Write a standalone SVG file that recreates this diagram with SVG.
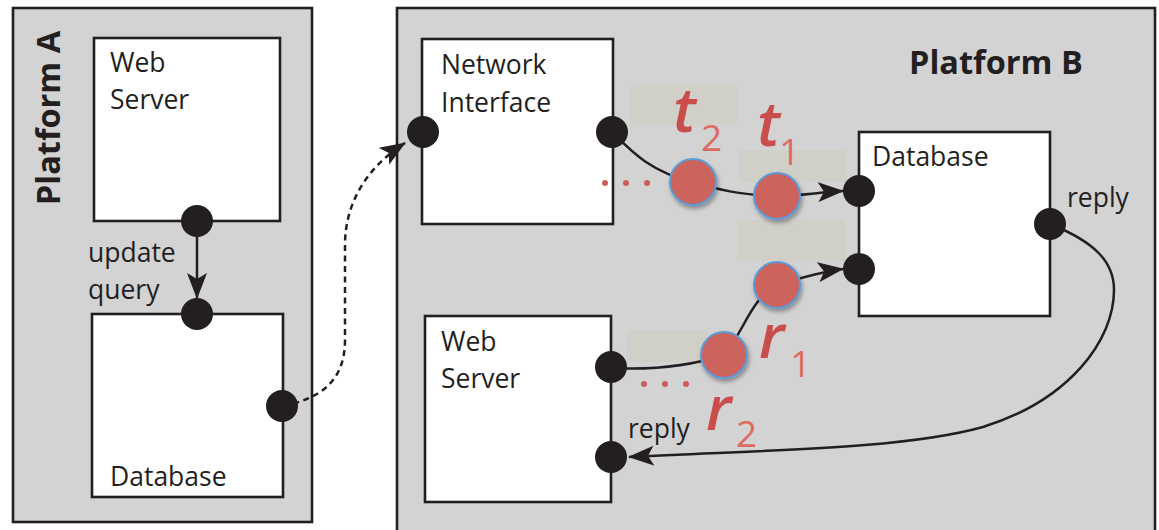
<svg xmlns="http://www.w3.org/2000/svg" width="1159" height="530" viewBox="0 0 1159 530">
<style>
.plat{fill:#d3d3d3;stroke:#231f20;stroke-width:2.6}
.box{fill:#ffffff;stroke:#231f20;stroke-width:2.6}
.port{fill:#231f20}
.lbl{font-family:"Open Sans","Noto Sans",sans-serif;font-size:26.5px;fill:#231f20}
.plbl{font-family:"Open Sans","Noto Sans",sans-serif;font-size:32.5px;font-weight:bold;fill:#231f20}
.conn{fill:none;stroke:#231f20;stroke-width:2.5}
.dash{stroke-dasharray:6 4.5}
.hl{fill:#d0d0c8}
.tok{fill:#cd635d;stroke:#5b9bd5;stroke-width:2;filter:url(#sh)}
.dot{fill:#cd5b57}
.sym{font-family:"Open Sans","Noto Sans",sans-serif;font-style:italic;font-weight:600;font-size:62px;fill:#c94e4b}
.sub{font-family:"Open Sans","Noto Sans",sans-serif;font-size:37px;fill:#de6b63}
</style>
<defs>
<marker id="arr" markerUnits="userSpaceOnUse" markerWidth="26" markerHeight="20" refX="25" refY="10" orient="auto" viewBox="0 0 26 20">
<path d="M0,0 L26,10 L0,20 L6,10 z" fill="#231f20"/>
</marker>
<filter id="sh" x="-40%" y="-40%" width="190%" height="190%">
<feDropShadow dx="1.5" dy="3" stdDeviation="2" flood-color="#000" flood-opacity="0.35"/>
</filter>
</defs>

<g id="platformA">
<rect class="plat" x="13" y="8" width="299" height="514"/>
<text class="plbl" transform="translate(60,118) rotate(-90)" text-anchor="middle">Platform A</text>
</g>
<g id="platformB">
<rect class="plat" x="397" y="8" width="758" height="540"/>
<text class="plbl" x="909" y="74">Platform B</text>
</g>

<g id="highlights">
<rect class="hl" x="630" y="85" width="107" height="40"/>
<rect class="hl" x="739" y="150" width="108" height="32"/>
<rect class="hl" x="737" y="220" width="108" height="41"/>
<rect class="hl" x="627" y="330" width="80" height="32"/>
</g>

<g id="connectors">
<path class="conn" d="M197,221 L197,298" marker-end="url(#arr)"/>
<path class="conn dash" d="M283,406 C322,398 345,380 345,340 L345,245 C345,200 370,165 405,143" marker-end="url(#arr)"/>
<path class="conn" d="M612,132 C630,150 650,172 693,182 C720,190 740,195 777,196 C800,196 820,192 843,191" marker-end="url(#arr)"/>
<path class="conn" d="M611,368 C650,370 690,366 724,355 C745,330 750,300 777,285 C800,278 820,272 843,269" marker-end="url(#arr)"/>
<path class="conn" d="M1050,224 C1095,242 1114,262 1114,290 C1114,340 1070,400 983,427 C900,450 760,450 629,457" marker-end="url(#arr)"/>
</g>

<g id="webServerA">
<rect class="box" x="94" y="38" width="186" height="183"/>
<text class="lbl" x="110" y="72">Web</text>
<text class="lbl" x="110" y="109">Server</text>
<circle class="port" cx="197" cy="221" r="16"/>
</g>
<text class="lbl" x="88" y="262">update</text>
<text class="lbl" x="88" y="299">query</text>
<g id="databaseA">
<rect class="box" x="92" y="314" width="191" height="183"/>
<text class="lbl" x="110" y="486">Database</text>
<circle class="port" cx="197" cy="314" r="16"/>
<circle class="port" cx="282" cy="406" r="16"/>
</g>

<g id="networkInterface">
<rect class="box" x="422" y="39" width="191" height="185"/>
<text class="lbl" x="441" y="74">Network</text>
<text class="lbl" x="441" y="112">Interface</text>
<circle class="port" cx="423" cy="132" r="16"/>
<circle class="port" cx="612" cy="132" r="16"/>
</g>

<g id="databaseB">
<rect class="box" x="859" y="132" width="191" height="184"/>
<text class="lbl" x="872" y="166">Database</text>
<circle class="port" cx="859" cy="191" r="16"/>
<circle class="port" cx="859" cy="269" r="16"/>
<circle class="port" cx="1050" cy="224" r="16"/>
<text class="lbl" x="1067" y="207">reply</text>
</g>

<g id="webServerB">
<rect class="box" x="425" y="316" width="186" height="186"/>
<text class="lbl" x="441" y="351">Web</text>
<text class="lbl" x="441" y="388">Server</text>
<circle class="port" cx="611" cy="367" r="16"/>
<circle class="port" cx="611" cy="457" r="16"/>
<text class="lbl" x="628" y="438">reply</text>
</g>

<g id="tokenT2">
<circle class="tok" cx="693" cy="182" r="23"/>
<text class="sym" x="673" y="132">t</text>
<text class="sub" x="701" y="151">2</text>
</g>
<g id="tokenT1">
<circle class="tok" cx="777" cy="196" r="23"/>
<text class="sym" x="757" y="146">t</text>
<text class="sub" x="779" y="165">1</text>
</g>
<g id="tokenR1">
<circle class="tok" cx="777" cy="285" r="23"/>
<text class="sym" x="759" y="358">r</text>
<text class="sub" x="790" y="377">1</text>
</g>
<g id="tokenR2">
<circle class="tok" cx="724" cy="355" r="23"/>
<text class="sym" x="706" y="430">r</text>
<text class="sub" x="736" y="447">2</text>
</g>
<g id="ellipses">
<circle class="dot" cx="605" cy="183" r="3"/>
<circle class="dot" cx="626" cy="183" r="3"/>
<circle class="dot" cx="647" cy="183" r="3"/>
<circle class="dot" cx="644" cy="384" r="3"/>
<circle class="dot" cx="665" cy="384" r="3"/>
<circle class="dot" cx="686" cy="384" r="3"/>
</g>
</svg>
